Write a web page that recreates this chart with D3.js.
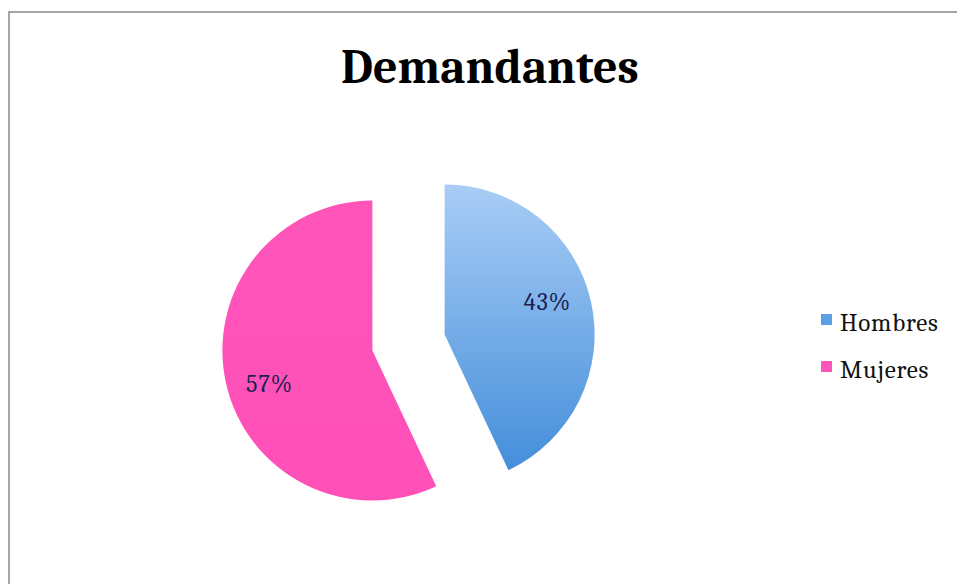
<!DOCTYPE html>
<html>
<head>
<meta charset="utf-8">
<script src="https://cdn.jsdelivr.net/npm/d3@7"></script>
<style>
  body { margin: 0; background: #fff; }
  svg { display: block; }
</style>
</head>
<body>
<div id="chart"></div>
<script>
// data
const categories = ["Hombres", "Mujeres"];
const values = [43, 57];
const title = "Demandantes";

const width = 957, height = 584;
const serif = "Cambria, 'DejaVu Serif', 'Liberation Serif', serif";

const svg = d3.select("#chart")
    .append("svg")
    .attr("width", width)
    .attr("height", height);

// chart frame
svg.append("rect")
    .attr("x", 9).attr("y", 12)
    .attr("width", 960).attr("height", 600)
    .attr("fill", "#fff")
    .attr("stroke", "#a6a6a6")
    .attr("stroke-width", 2);

const defs = svg.append("defs");
const blueGrad = defs.append("linearGradient")
    .attr("id", "blueGrad")
    .attr("gradientUnits", "userSpaceOnUse")
    .attr("x1", 0).attr("y1", -150).attr("x2", 0).attr("y2", 150);
blueGrad.append("stop").attr("offset", "0%").attr("stop-color", "#a9cdf6");
blueGrad.append("stop").attr("offset", "100%").attr("stop-color", "#3f8bd9");

const pinkGrad = defs.append("linearGradient")
    .attr("id", "pinkGrad")
    .attr("gradientUnits", "userSpaceOnUse")
    .attr("x1", 0).attr("y1", -150).attr("x2", 0).attr("y2", 150);
pinkGrad.append("stop").attr("offset", "0%").attr("stop-color", "#ff55bb");
pinkGrad.append("stop").attr("offset", "100%").attr("stop-color", "#ff50b8");

const color = d3.scaleOrdinal().domain(categories).range(["url(#blueGrad)", "url(#pinkGrad)"]);
const legendColor = d3.scaleOrdinal().domain(categories).range(["#5d9fe3", "#ff55bb"]);

const radius = 150, explode = 37;
const cx = 408.5, cy = 342.5;

const pie = d3.pie().sort(null).value(d => d.value);
const arc = d3.arc().innerRadius(0).outerRadius(radius);

const data = categories.map((c, i) => ({ name: c, value: values[i] }));
const total = d3.sum(values);

const g = svg.append("g").attr("transform", "translate(" + cx + "," + cy + ")");

const slices = g.selectAll("g.slice")
    .data(pie(data))
    .enter().append("g")
    .attr("class", "slice")
    .attr("transform", d => {
        const a = (d.startAngle + d.endAngle) / 2;
        return "translate(" + (Math.sin(a) * explode) + "," + (-Math.cos(a) * explode) + ")";
    });

slices.append("path")
    .attr("d", arc)
    .attr("fill", d => color(d.data.name));

// labels sit a bit counter-clockwise of the bisector, like the original
slices.append("text")
    .attr("transform", d => {
        const a = (d.startAngle + d.endAngle) / 2 - 0.09;
        const r = radius * 0.72;
        return "translate(" + (Math.sin(a) * r) + "," + (-Math.cos(a) * r) + ")";
    })
    .attr("text-anchor", "middle")
    .attr("dy", "0.35em")
    .style("font-family", serif)
    .style("font-size", "24px")
    .style("letter-spacing", "1px")
    .attr("fill", "#1b2050")
    .text(d => Math.round(d.data.value / total * 100) + "%");

// title
svg.append("text")
    .attr("x", 490).attr("y", 83)
    .attr("text-anchor", "middle")
    .style("font-family", serif)
    .style("font-weight", "bold")
    .style("font-size", "48px")
    .attr("fill", "#000")
    .text(title);

// legend
const legend = svg.append("g").attr("transform", "translate(821,331)");
const item = legend.selectAll("g")
    .data(categories)
    .enter().append("g")
    .attr("transform", (d, i) => "translate(0," + (i * 47) + ")");
item.append("rect")
    .attr("y", -17)
    .attr("width", 11).attr("height", 11)
    .attr("fill", d => legendColor(d));
item.append("text")
    .attr("x", 19).attr("y", 0)
    .style("font-family", serif)
    .style("font-size", "25px")
    .style("letter-spacing", "0.8px")
    .attr("fill", "#111")
    .text(d => d);
</script>
</body>
</html>
